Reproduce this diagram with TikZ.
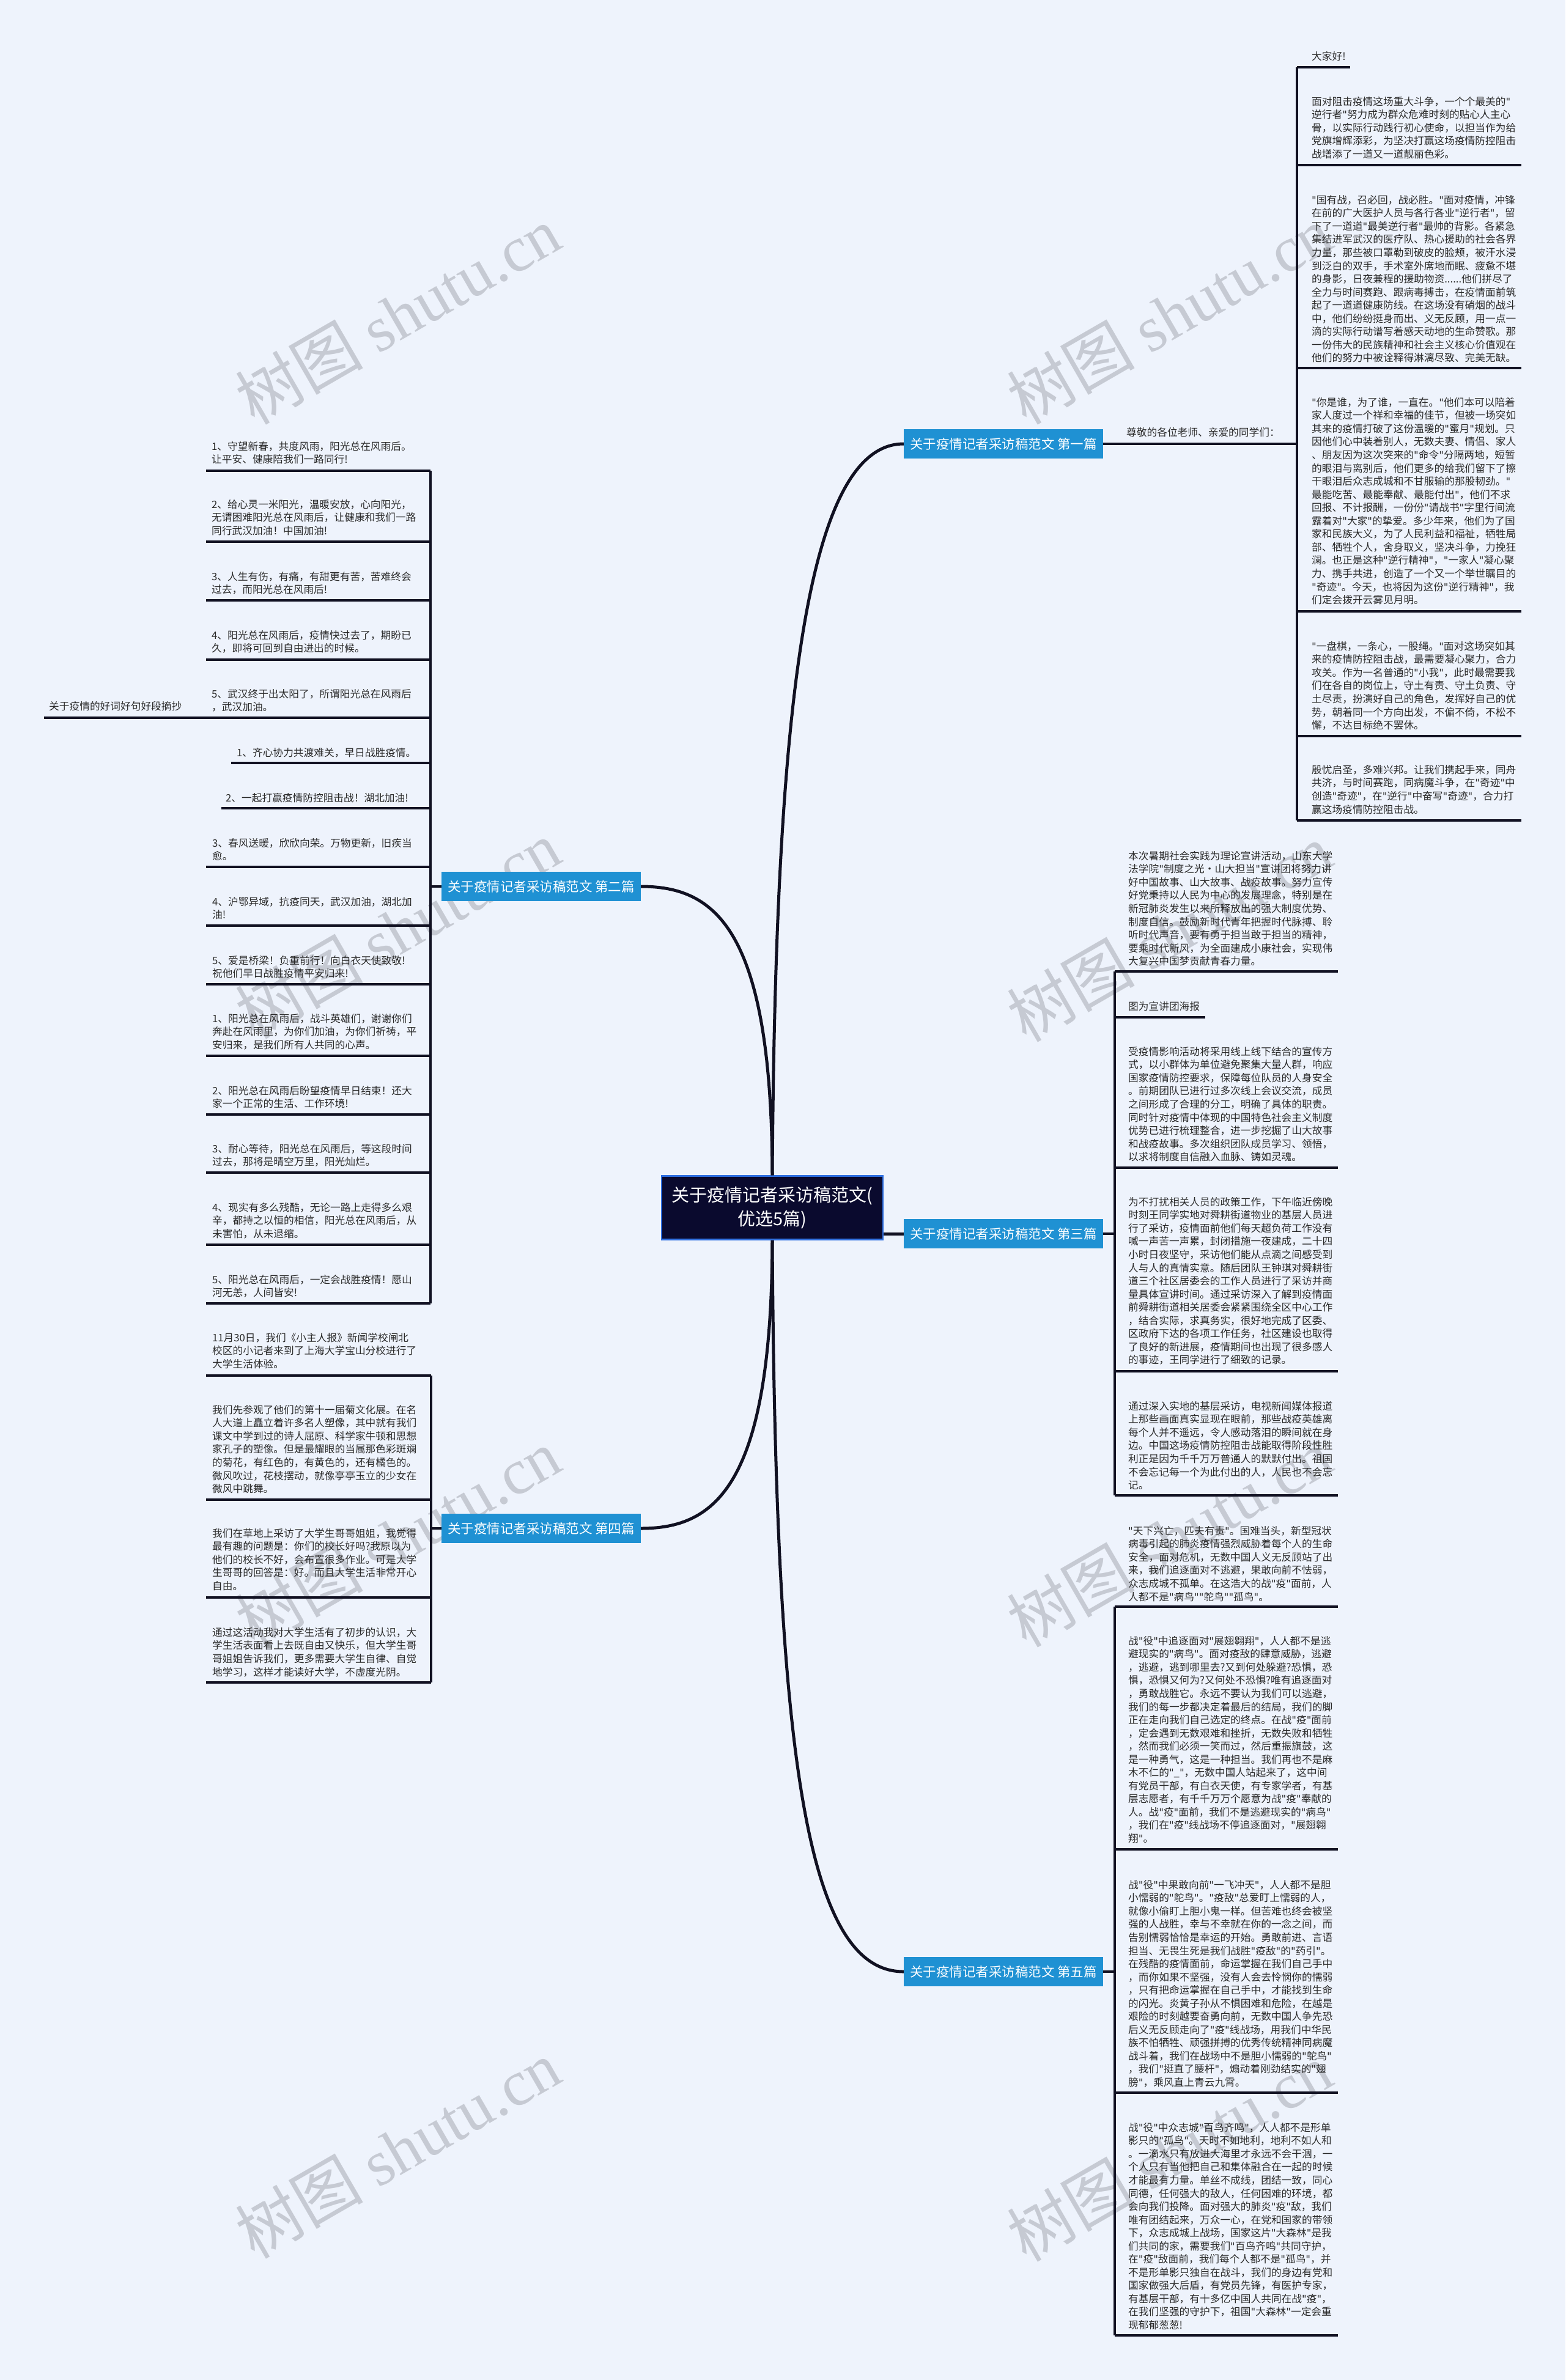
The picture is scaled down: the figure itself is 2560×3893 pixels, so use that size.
\documentclass[tikz,border=0pt]{standalone}
\usepackage{fontspec}
\setmainfont{Noto Sans CJK SC}
\newfontfamily\wmlatin{Liberation Serif}
\newfontfamily\qfont{DejaVu Sans}
\definecolor{bg}{HTML}{EEF3FC}
\definecolor{ln}{HTML}{111122}
\definecolor{txt}{HTML}{2A2A2A}
\definecolor{bx}{HTML}{1F91D3}
\definecolor{rt}{HTML}{0A0A2E}
\definecolor{rtb}{HTML}{2F6FE0}
\definecolor{wmc}{HTML}{C6CAD3}
\newcommand\leaffont{\fontsize{16.7}{21.55}\selectfont}
\newcommand\branchfont{\fontsize{21.5}{25}\selectfont}
\newcommand\rootfont{\fontsize{29}{38.5}\selectfont}
\tikzset{
 leaf/.style={anchor=base west, inner sep=0pt, align=left, font=\leaffont, text=txt},
 ul/.style={draw=ln, line width=3.5pt},
 conn/.style={draw=ln, line width=5pt},
 bbox/.style={fill=bx, text=white, minimum width=326pt, minimum height=48pt, inner sep=0pt, font=\branchfont},
 rootbox/.style={fill=rt, draw=rtb, line width=2.5pt, text=white, minimum width=362pt, minimum height=104pt, inner sep=0pt, align=center, font=\rootfont},
 wm/.style={text=wmc, rotate=30, inner sep=0pt, font=\fontsize{105}{105}\selectfont}
}
{\catcode`\"=\active \gdef"{{\qfont\char34}}}
\begin{document}
\catcode`\"=\active
\begin{tikzpicture}[x=1pt,y=-1pt]
\fill[bg] (0,0) rectangle (2560,3893);
\useasboundingbox (0,0) rectangle (2560,3893);
% watermarks
\foreach \i/\wx/\wy in {1/650/515,2/650/1520,3/650/2515,4/650/3515,5/1912/515,6/1912/1525,7/1912/2515,8/1912/3520}{
  \node[wm] (wm\i) at (\wx,\wy) {树图 {\wmlatin shutu.cn}};
}
% root and branches
\node[rootbox] (root) at (1263,1975.5) {关于疫情记者采访稿范文(\\优选5篇)};
\node[bbox] (b1) at (1641,726) {关于疫情记者采访稿范文 第一篇};
\node[bbox] (b2) at (885,1450) {关于疫情记者采访稿范文 第二篇};
\node[bbox] (b3) at (1641,2018) {关于疫情记者采访稿范文 第三篇};
\node[bbox] (b4) at (885,2500) {关于疫情记者采访稿范文 第四篇};
\node[bbox] (b5) at (1641,3225) {关于疫情记者采访稿范文 第五篇};
\draw[conn] (root.north) .. controls (1268,1150) and (1320,726) .. (b1.west);
\draw[conn] (root.north) .. controls (1262,1520) and (1170,1450) .. (b2.east);
\draw[conn] (root.east |- b3.west) -- (b3.west);
\draw[conn] (root.south) .. controls (1262,2430) and (1170,2500) .. (b4.east);
\draw[conn] (root.south) .. controls (1268,2880) and (1320,3225) .. (b5.west);

% ---------- branch 1 ----------
\node[leaf] (r0) at (1842,713.3) {尊敬的各位老师、亲爱的同学们：};
\coordinate (bar1) at (2121,726);
\draw[ul] (b1.east) -- (bar1);
\draw[ul] (2121,110) -- (2121,1342);
\node[leaf] (r1) at (2145,98.3) {大家好!};
\draw[ul] (2121,110) -- (2208,110);
\node[leaf] (r2) at (2145,258.5) {面对阻击疫情这场重大斗争，一个个最美的"\\逆行者"努力成为群众危难时刻的贴心人主心\\骨，以实际行动践行初心使命，以担当作为给\\党旗增辉添彩，为坚决打赢这场疫情防控阻击\\战增添了一道又一道靓丽色彩。};
\draw[ul] (2121,270) -- (2488,270);
\node[leaf] (r3) at (2145,591.9) {"国有战，召必回，战必胜。"面对疫情，冲锋\\在前的广大医护人员与各行各业"逆行者"，留\\下了一道道"最美逆行者"最帅的背影。各紧急\\集结进军武汉的医疗队、热心援助的社会各界\\力量，那些被口罩勒到破皮的脸颊，被汗水浸\\到泛白的双手，手术室外席地而眠、疲惫不堪\\的身影，日夜兼程的援助物资......他们拼尽了\\全力与时间赛跑、跟病毒搏击，在疫情面前筑\\起了一道道健康防线。在这场没有硝烟的战斗\\中，他们纷纷挺身而出、义无反顾，用一点一\\滴的实际行动谱写着感天动地的生命赞歌。那\\一份伟大的民族精神和社会主义核心价值观在\\他们的努力中被诠释得淋漓尽致、完美无缺。};
\draw[ul] (2121,602) -- (2488,602);
\node[leaf] (r4) at (2145,987.55) {"你是谁，为了谁，一直在。"他们本可以陪着\\家人度过一个祥和幸福的佳节，但被一场突如\\其来的疫情打破了这份温暖的"蜜月"规划。只\\因他们心中装着别人，无数夫妻、情侣、家人\\、朋友因为这次突来的"命令"分隔两地，短暂\\的眼泪与离别后，他们更多的给我们留下了擦\\干眼泪后众志成城和不甘服输的那股韧劲。"\\最能吃苦、最能奉献、最能付出"，他们不求\\回报、不计报酬，一份份"请战书"字里行间流\\露着对"大家"的挚爱。多少年来，他们为了国\\家和民族大义，为了人民利益和福祉，牺牲局\\部、牺牲个人，舍身取义，坚决斗争，力挽狂\\澜。也正是这种"逆行精神"，"一家人"凝心聚\\力、携手共进，创造了一个又一个举世瞩目的\\"奇迹"。今天，也将因为这份"逆行精神"，我\\们定会拨开云雾见月明。};
\draw[ul] (2121,1000) -- (2488,1000);
\node[leaf] (r5) at (2145,1192.6) {"一盘棋，一条心，一股绳。"面对这场突如其\\来的疫情防控阻击战，最需要凝心聚力，合力\\攻关。作为一名普通的"小我"，此时最需要我\\们在各自的岗位上，守土有责、守土负责、守\\土尽责，扮演好自己的角色，发挥好自己的优\\势，朝着同一个方向出发，不偏不倚，不松不\\懈，不达目标绝不罢休。};
\draw[ul] (2121,1204) -- (2488,1204);
\node[leaf] (r6) at (2145,1330) {殷忧启圣，多难兴邦。让我们携起手来，同舟\\共济，与时间赛跑，同病魔斗争，在"奇迹"中\\创造"奇迹"，在"逆行"中奋写"奇迹"，合力打\\赢这场疫情防控阻击战。};
\draw[ul] (2121,1342) -- (2488,1342);

% ---------- branch 3 ----------
\coordinate (bar3) at (1823,2018);
\draw[ul] (b3.east) -- (bar3);
\draw[ul] (1823,1589) -- (1823,2446);
\node[leaf] (t1) at (1845,1578.7) {本次暑期社会实践为理论宣讲活动，山东大学\\法学院"制度之光·山大担当"宣讲团将努力讲\\好中国故事、山大故事、战疫故事。努力宣传\\好党秉持以人民为中心的发展理念，特别是在\\新冠肺炎发生以来所释放出的强大制度优势、\\制度自信。鼓励新时代青年把握时代脉搏、聆\\听时代声音，要有勇于担当敢于担当的精神，\\要乘时代新风，为全面建成小康社会，实现伟\\大复兴中国梦贡献青春力量。};
\draw[ul] (1823,1589) -- (2188,1589);
\node[leaf] (t2) at (1845,1652.3) {图为宣讲团海报};
\draw[ul] (1823,1664) -- (1971,1664);
\node[leaf] (t3) at (1845,1898.7) {受疫情影响活动将采用线上线下结合的宣传方\\式，以小群体为单位避免聚集大量人群，响应\\国家疫情防控要求，保障每位队员的人身安全\\。前期团队已进行过多次线上会议交流，成员\\之间形成了合理的分工，明确了具体的职责。\\同时针对疫情中体现的中国特色社会主义制度\\优势已进行梳理整合，进一步挖掘了山大故事\\和战疫故事。多次组织团队成员学习、领悟，\\以求将制度自信融入血脉、铸如灵魂。};
\draw[ul] (1823,1910) -- (2188,1910);
\node[leaf] (t4) at (1845,2230.9) {为不打扰相关人员的政策工作，下午临近傍晚\\时刻王同学实地对舜耕街道物业的基层人员进\\行了采访，疫情面前他们每天超负荷工作没有\\喊一声苦一声累，封闭措施一夜建成，二十四\\小时日夜坚守，采访他们能从点滴之间感受到\\人与人的真情实意。随后团队王钟琪对舜耕街\\道三个社区居委会的工作人员进行了采访并商\\量具体宣讲时间。通过采访深入了解到疫情面\\前舜耕街道相关居委会紧紧围绕全区中心工作\\，结合实际，求真务实，很好地完成了区委、\\区政府下达的各项工作任务，社区建设也取得\\了良好的新进展，疫情期间也出现了很多感人\\的事迹，王同学进行了细致的记录。};
\draw[ul] (1823,2243) -- (2188,2243);
\node[leaf] (t5) at (1845,2435.6) {通过深入实地的基层采访，电视新闻媒体报道\\上那些画面真实显现在眼前，那些战疫英雄离\\每个人并不遥远，令人感动落泪的瞬间就在身\\边。中国这场疫情防控阻击战能取得阶段性胜\\利正是因为千千万万普通人的默默付出。祖国\\不会忘记每一个为此付出的人，人民也不会忘\\记。};
\draw[ul] (1823,2446) -- (2188,2446);

% ---------- branch 5 ----------
\coordinate (bar5) at (1823,3225);
\draw[ul] (b5.east) -- (bar5);
\draw[ul] (1823,2628) -- (1823,3820);
\node[leaf] (f1) at (1845,2618) {"天下兴亡，匹夫有责"。国难当头，新型冠状\\病毒引起的肺炎疫情强烈威胁着每个人的生命\\安全，面对危机，无数中国人义无反顾站了出\\来，我们追逐面对不逃避，果敢向前不怯弱，\\众志成城不孤单。在这浩大的战"疫"面前，人\\人都不是"病鸟""鸵鸟""孤鸟"。};
\draw[ul] (1823,2628) -- (2188,2628);
\node[leaf] (f2) at (1845,3013.5) {战"役"中追逐面对"展翅翱翔"，人人都不是逃\\避现实的"病鸟"。面对疫敌的肆意威胁，逃避\\，逃避，逃到哪里去?又到何处躲避?恐惧，恐\\惧，恐惧又何为?又何处不恐惧?唯有追逐面对\\，勇敢战胜它。永远不要认为我们可以逃避，\\我们的每一步都决定着最后的结局，我们的脚\\正在走向我们自己选定的终点。在战"疫"面前\\，定会遇到无数艰难和挫折，无数失败和牺牲\\，然而我们必须一笑而过，然后重振旗鼓，这\\是一种勇气，这是一种担当。我们再也不是麻\\木不仁的"\_"，无数中国人站起来了，这中间\\有党员干部，有白衣天使，有专家学者，有基\\层志愿者，有千千万万个愿意为战"疫"奉献的\\人。战"疫"面前，我们不是逃避现实的"病鸟"\\，我们在"疫"线战场不停追逐面对，"展翅翱\\翔"。};
\draw[ul] (1823,3025) -- (2188,3025);
\node[leaf] (f3) at (1845,3412.5) {战"役"中果敢向前"一飞冲天"，人人都不是胆\\小懦弱的"鸵鸟"。"疫敌"总爱盯上懦弱的人，\\就像小偷盯上胆小鬼一样。但苦难也终会被坚\\强的人战胜，幸与不幸就在你的一念之间，而\\告别懦弱恰恰是幸运的开始。勇敢前进、言语\\担当、无畏生死是我们战胜"疫敌"的"药引"。\\在残酷的疫情面前，命运掌握在我们自己手中\\，而你如果不坚强，没有人会去怜悯你的懦弱\\，只有把命运掌握在自己手中，才能找到生命\\的闪光。炎黄子孙从不惧困难和危险，在越是\\艰险的时刻越要奋勇向前，无数中国人争先恐\\后义无反顾走向了"疫"线战场，用我们中华民\\族不怕牺牲、顽强拼搏的优秀传统精神同病魔\\战斗着，我们在战场中不是胆小懦弱的"鸵鸟"\\，我们"挺直了腰杆"，煽动着刚劲结实的"翅\\膀"，乘风直上青云九霄。};
\draw[ul] (1823,3423) -- (2188,3423);
\node[leaf] (f4) at (1845,3809.5) {战"役"中众志城"百鸟齐鸣"，人人都不是形单\\影只的"孤鸟"。天时不如地利，地利不如人和\\。一滴水只有放进大海里才永远不会干涸，一\\个人只有当他把自己和集体融合在一起的时候\\才能最有力量。单丝不成线，团结一致，同心\\同德，任何强大的敌人，任何困难的环境，都\\会向我们投降。面对强大的肺炎"疫"敌，我们\\唯有团结起来，万众一心，在党和国家的带领\\下，众志成城上战场，国家这片"大森林"是我\\们共同的家，需要我们"百鸟齐鸣"共同守护，\\在"疫"敌面前，我们每个人都不是"孤鸟"，并\\不是形单影只独自在战斗，我们的身边有党和\\国家做强大后盾，有党员先锋，有医护专家，\\有基层干部，有十多亿中国人共同在战"疫"，\\在我们坚强的守护下，祖国"大森林"一定会重\\现郁郁葱葱!};
\draw[ul] (1823,3820) -- (2188,3820);

% ---------- branch 2 ----------
\coordinate (bar2) at (704,1450);
\draw[ul] (b2.west) -- (bar2);
\draw[ul] (704,770) -- (704,2132);
\node[leaf] (s1) at (346,757.9) {1、守望新春，共度风雨，阳光总在风雨后。\\让平安、健康陪我们一路同行!};
\draw[ul] (337,770) -- (704,770);
\node[leaf] (s2) at (346,874.4) {2、给心灵一米阳光，温暖安放，心向阳光，\\无谓困难阳光总在风雨后，让健康和我们一路\\同行武汉加油！中国加油!};
\draw[ul] (337,886) -- (704,886);
\node[leaf] (s3) at (346,970.9) {3、人生有伤，有痛，有甜更有苦，苦难终会\\过去，而阳光总在风雨后!};
\draw[ul] (337,982) -- (704,982);
\node[leaf] (s4) at (346,1066.9) {4、阳光总在风雨后，疫情快过去了，期盼已\\久，即将可回到自由进出的时候。};
\draw[ul] (337,1079) -- (704,1079);
\node[leaf] (s5) at (346,1162.9) {5、武汉终于出太阳了，所谓阳光总在风雨后\\，武汉加油。};
\draw[ul] (337,1174) -- (704,1174);
\node[leaf] (s5p) at (80,1161.3) {关于疫情的好词好句好段摘抄};
\draw[ul] (72,1174) -- (337,1174);
\node[leaf] (s6) at (387,1237.3) {1、齐心协力共渡难关，早日战胜疫情。};
\draw[ul] (378,1248) -- (704,1248);
\node[leaf] (s7) at (369,1311.3) {2、一起打赢疫情防控阻击战！湖北加油!};
\draw[ul] (362,1322) -- (704,1322);
\node[leaf] (s8) at (347,1406.9) {3、春风送暖，欣欣向荣。万物更新，旧疾当\\愈。};
\draw[ul] (337,1418) -- (704,1418);
\node[leaf] (s9) at (347,1502.9) {4、沪鄂异域，抗疫同天，武汉加油，湖北加\\油!};
\draw[ul] (337,1514) -- (704,1514);
\node[leaf] (s10) at (347,1598.9) {5、爱是桥梁！负重前行！向白衣天使致敬!\\祝他们早日战胜疫情平安归来!};
\draw[ul] (337,1610) -- (704,1610);
\node[leaf] (s11) at (347,1715.4) {1、阳光总在风雨后，战斗英雄们，谢谢你们\\奔赴在风雨里，为你们加油，为你们祈祷，平\\安归来，是我们所有人共同的心声。};
\draw[ul] (337,1727) -- (704,1727);
\node[leaf] (s12) at (347,1811.9) {2、阳光总在风雨后盼望疫情早日结束！还大\\家一个正常的生活、工作环境!};
\draw[ul] (337,1823) -- (704,1823);
\node[leaf] (s13) at (347,1906.9) {3、耐心等待，阳光总在风雨后，等这段时间\\过去，那将是晴空万里，阳光灿烂。};
\draw[ul] (337,1918) -- (704,1918);
\node[leaf] (s14) at (347,2024.4) {4、现实有多么残酷，无论一路上走得多么艰\\辛，都持之以恒的相信，阳光总在风雨后，从\\未害怕，从未退缩。};
\draw[ul] (337,2036) -- (704,2036);
\node[leaf] (s15) at (347,2120.9) {5、阳光总在风雨后，一定会战胜疫情！愿山\\河无恙，人间皆安!};
\draw[ul] (337,2132) -- (704,2132);

% ---------- branch 4 ----------
\coordinate (bar4) at (705,2500);
\draw[ul] (b4.west) -- (bar4);
\draw[ul] (705,2250) -- (705,2752);
\node[leaf] (u1) at (347,2237.4) {11月30日，我们《小主人报》新闻学校闸北\\校区的小记者来到了上海大学宝山分校进行了\\大学生活体验。};
\draw[ul] (337,2250) -- (705,2250);
\node[leaf] (u2) at (347,2441.6) {我们先参观了他们的第十一届菊文化展。在名\\人大道上矗立着许多名人塑像，其中就有我们\\课文中学到过的诗人屈原、科学家牛顿和思想\\家孔子的塑像。但是最耀眼的当属那色彩斑斓\\的菊花，有红色的，有黄色的，还有橘色的。\\微风吹过，花枝摆动，就像亭亭玉立的少女在\\微风中跳舞。};
\draw[ul] (337,2453) -- (705,2453);
\node[leaf] (u3) at (347,2600.5) {我们在草地上采访了大学生哥哥姐姐，我觉得\\最有趣的问题是：你们的校长好吗?我原以为\\他们的校长不好，会布置很多作业。可是大学\\生哥哥的回答是：好。而且大学生活非常开心\\自由。};
\draw[ul] (337,2613) -- (705,2613);
\node[leaf] (u4) at (347,2741) {通过这活动我对大学生活有了初步的认识，大\\学生活表面看上去既自由又快乐，但大学生哥\\哥姐姐告诉我们，更多需要大学生自律、自觉\\地学习，这样才能读好大学，不虚度光阴。};
\draw[ul] (337,2752) -- (705,2752);
\end{tikzpicture}
\end{document}
